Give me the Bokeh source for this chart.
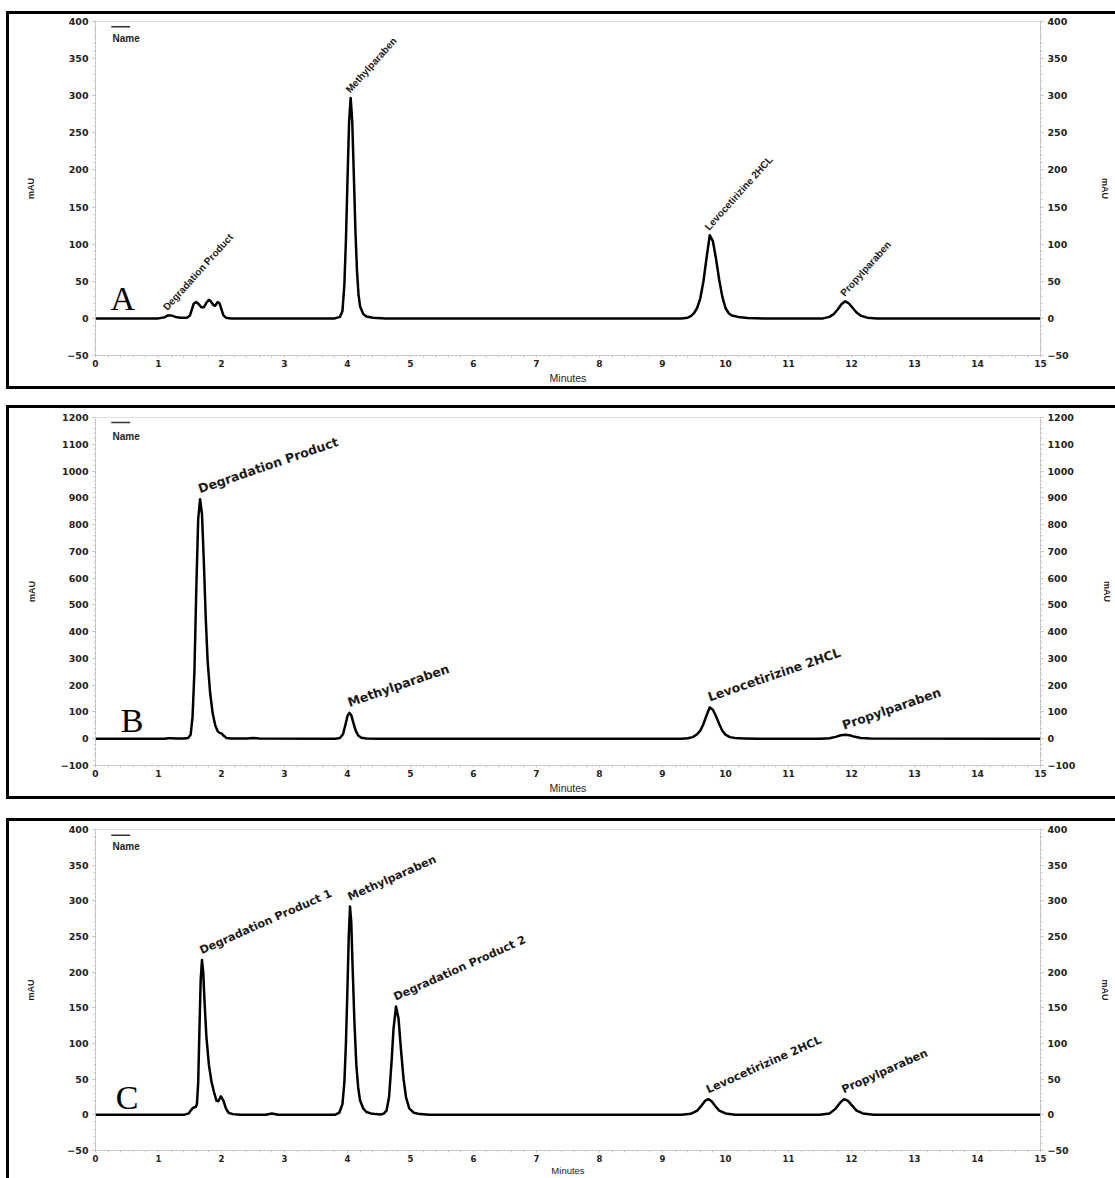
from bokeh.plotting import figure
from bokeh.models import LinearAxis, Range1d, SingleIntervalTicker, Label, ColumnDataSource
from bokeh.layouts import column
from bokeh.core.properties import value
from bokeh.embed import file_html
from bokeh.resources import INLINE

# ---------------- data ----------------
# Panel A: chromatogram trace (minutes, mAU)
a_time = [0, 1.0, 1.1, 1.15, 1.2, 1.27, 1.35, 1.45, 1.5, 1.53, 1.56, 1.6, 1.64, 1.68, 1.72, 1.76, 1.8,
          1.83, 1.87, 1.9, 1.94, 1.97, 2.0, 2.03, 2.07, 2.15, 3.8, 3.88, 3.92, 3.95, 3.975, 4.0, 4.025,
          4.05, 4.075, 4.1, 4.125, 4.15, 4.175, 4.2, 4.25, 4.3, 4.4, 4.6, 9.3, 9.4, 9.45, 9.5, 9.55,
          9.6, 9.65, 9.7, 9.75, 9.8, 9.85, 9.9, 9.95, 10.0, 10.05, 10.1, 10.2, 10.35, 10.6, 11.55,
          11.65, 11.72, 11.78, 11.84, 11.9, 11.96, 12.02, 12.08, 12.15, 12.25, 12.4, 15]
a_mau = [0, 0, 1.5, 4, 4, 2, 1, 1, 4, 12, 20, 22, 19, 15, 15, 21, 25,
         23, 18, 17, 22, 20, 12, 4, 1, 0, 0, 2, 10, 45, 105, 187, 264,
         297, 266, 195, 120, 65, 32, 16, 6, 2.5, 1, 0, 0, 1, 3, 7, 14,
         27, 50, 82, 112, 104, 80, 52, 29, 14, 7, 4, 2, 0.5, 0, 0,
         2, 6, 12, 19, 23, 20, 14, 8, 3.5, 1, 0, 0]
a_peaks = ["Degradation Product", "Methylparaben", "Levocetirizine 2HCL", "Propylparaben"]
a_rt = [1.15, 4.05, 9.75, 11.9]
a_ht = [4, 297, 112, 23]

# Panel B
b_time = [0, 1.1, 1.15, 1.2, 1.28, 1.4, 1.47, 1.51, 1.54, 1.57, 1.6, 1.63, 1.66, 1.69, 1.72, 1.75, 1.78,
          1.82, 1.86, 1.9, 1.94, 1.97, 2.0, 2.04, 2.08, 2.15, 2.4, 2.5, 2.6, 3.8, 3.88, 3.93, 3.97, 4.0,
          4.03, 4.06, 4.09, 4.13, 4.17, 4.22, 4.3, 4.5, 9.3, 9.4, 9.48, 9.55, 9.6, 9.65, 9.7, 9.75,
          9.8, 9.85, 9.9, 9.95, 10.0, 10.07, 10.15, 10.3, 10.5, 11.5, 11.65, 11.75, 11.83, 11.9,
          11.97, 12.05, 12.15, 12.3, 15]
b_mau = [0, 0, 2, 2, 1, 1, 3, 15, 80, 250, 560, 820, 895, 840, 660, 450, 290,
         170, 95, 50, 28, 22, 20, 10, 3, 1, 1, 3, 1, 0, 3, 18, 55, 85,
         97, 88, 62, 30, 12, 4, 1, 0, 0, 2, 6, 17, 30, 55, 88, 117,
         108, 84, 55, 30, 15, 6, 2.5, 1, 0, 0, 2, 7, 13, 15,
         13, 7, 3, 0.5, 0]
b_peaks = ["Degradation Product", "Methylparaben", "Levocetirizine 2HCL", "Propylparaben"]
b_rt = [1.66, 4.03, 9.75, 11.88]
b_ht = [895, 97, 117, 12]

# Panel C
c_time = [0, 1.4, 1.48, 1.52, 1.55, 1.59, 1.61, 1.63, 1.65, 1.67, 1.69, 1.71, 1.73, 1.76, 1.8, 1.84,
          1.88, 1.92, 1.95, 1.99, 2.03, 2.07, 2.11, 2.18, 2.3, 2.7, 2.8, 2.9, 3.8, 3.87, 3.92, 3.95,
          3.975, 4.0, 4.02, 4.04, 4.06, 4.08, 4.11, 4.14, 4.17, 4.2, 4.25, 4.3, 4.37, 4.45, 4.52,
          4.57, 4.62, 4.66, 4.7, 4.73, 4.77, 4.81, 4.85, 4.89, 4.93, 4.98, 5.05, 5.15, 5.3, 9.3,
          9.45, 9.55, 9.62, 9.68, 9.73, 9.78, 9.84, 9.9, 10.0, 10.15, 11.5, 11.65, 11.74, 11.82,
          11.88, 11.94, 12.0, 12.08, 12.18, 12.35, 15]
c_mau = [0, 0, 2, 7, 10, 11, 15, 45, 120, 190, 217, 200, 160, 110, 70, 47,
         32, 20, 19, 26, 20, 9, 3, 1, 0, 0, 2, 0, 0, 3, 15, 45,
         100, 180, 250, 292, 270, 210, 130, 70, 38, 20, 9, 4, 2, 1, 0.5,
         1.5, 6, 25, 75, 120, 152, 135, 90, 50, 24, 9, 3, 1, 0, 0,
         1.5, 6, 13, 20, 22, 19, 12, 6, 2, 0, 0, 2, 8, 17,
         22, 20, 14, 6, 2, 0, 0]
c_peaks = ["Degradation Product 1", "Methylparaben", "Degradation Product 2",
           "Levocetirizine 2HCL", "Propylparaben"]
c_rt = [1.69, 4.04, 4.77, 9.73, 11.88]
c_ht = [217, 292, 152, 22, 22]

x_limits = [0, 15]
W = 1106
TICK_FONT = "DejaVu Sans"


def style_axis(ax):
    ax.axis_line_color = "#b5b5b5"
    ax.axis_line_dash = "2 2"
    ax.major_tick_line_color = "#b5b5b5"
    ax.minor_tick_line_color = "#c8c8c8"
    ax.major_tick_in = 0
    ax.major_tick_out = 3
    ax.minor_tick_in = 0
    ax.minor_tick_out = 2
    ax.major_label_text_font = TICK_FONT
    ax.major_label_text_font_style = "bold"
    ax.major_label_text_font_size = "9.5px"
    ax.major_label_text_color = "#222222"
    ax.axis_label_text_font = "Liberation Sans"
    ax.axis_label_text_font_style = "bold"
    ax.axis_label_text_font_size = "9px"
    ax.axis_label_text_color = "#222222"


def panel(t, sig, names, rt, ht, yr, ystep, letter, letter_xy, angle_deg, lab_font, lab_size,
          H, top, bottom, margin_top, ylab_standoff, rlab_standoff, name_y, line_y,
          min_font="10.5px", min_standoff=2, xtick_font="9px"):
    p = figure(width=W, height=H, x_range=Range1d(*x_limits), y_range=Range1d(*yr),
               output_backend="svg", toolbar_location=None,
               min_border_left=86, min_border_right=73, min_border_top=top, min_border_bottom=bottom,
               background_fill_color="white", border_fill_color="white",
               outline_line_color="#dcdcdc", margin=(margin_top, 0, 0, 9),
               styles={"outline": "3px solid black"})
    p.xgrid.visible = False
    p.ygrid.visible = False
    p.xaxis.ticker = SingleIntervalTicker(interval=1, num_minor_ticks=5)
    p.yaxis.ticker = SingleIntervalTicker(interval=ystep, num_minor_ticks=5)
    style_axis(p.xaxis[0])
    style_axis(p.yaxis[0])
    p.xaxis.major_tick_out = 0
    p.xaxis.major_label_standoff = 2
    p.xaxis.major_label_text_font_size = xtick_font
    p.yaxis.major_label_standoff = 4
    p.yaxis.axis_label = "mAU"
    p.yaxis.axis_label_standoff = ylab_standoff
    p.xaxis.axis_label = "Minutes"
    p.xaxis.axis_label_text_font_style = "normal"
    p.xaxis.axis_label_text_font_size = min_font
    p.xaxis.axis_label_standoff = min_standoff
    ra = LinearAxis(ticker=SingleIntervalTicker(interval=ystep, num_minor_ticks=5), axis_label="mAU")
    style_axis(ra)
    ra.major_label_standoff = 4
    ra.axis_label_standoff = rlab_standoff
    p.add_layout(ra, "right")

    p.line(t, sig, line_color="black", line_width=2.5, line_join="round")

    src = ColumnDataSource(dict(x=rt, y=ht, name=names))
    p.text(x="x", y="y", text="name", source=src, angle=angle_deg * 3.14159265 / 180.0,
           text_align="left", text_baseline="bottom", x_offset=1, y_offset=-3,
           text_font=value(lab_font), text_font_style="bold", text_font_size=value(lab_size),
           text_color="#1a1a1a")

    # legend ("Name" with a short line above it)
    p.segment(x0=[0.25], x1=[0.55], y0=[line_y], y1=[line_y], line_color="#333333", line_width=1.5)
    p.add_layout(Label(x=0.27, y=name_y, text="Name", text_font="Liberation Sans", text_font_style="bold",
                       text_font_size="10px", text_color="#222222", text_baseline="top"))
    # panel letter
    p.add_layout(Label(x=letter_xy[0], y=letter_xy[1], text=letter, text_font="Liberation Serif",
                       text_font_size="34px", text_color="black", text_baseline="alphabetic"))
    return p


pA = panel(a_time, a_mau, a_peaks, a_rt, a_ht, (-50, 400), 50, "A", (0.24, 27), 48,
           "Liberation Sans", "10px", 372, 7, 31, 14, 28, 28, 384, 393)
pB = panel(b_time, b_mau, b_peaks, b_rt, b_ht, (-100, 1200), 100, "B", (0.4, 68), 19,
           "DejaVu Sans", "12.5px", 388, 9, 31, 22, 21, 24, 1150, 1181)
pC = panel(c_time, c_mau, c_peaks, c_rt, c_ht, (-50, 400), 50, "C", (0.32, 24), 24,
           "DejaVu Sans", "11.2px", 357, 8, 26, 25, 28, 28, 384, 392,
           min_font="9.5px", min_standoff=0, xtick_font="8.5px")

layout = column(pA, pB, pC, spacing=0)
open("out.html", "w").write(file_html(layout, INLINE))
